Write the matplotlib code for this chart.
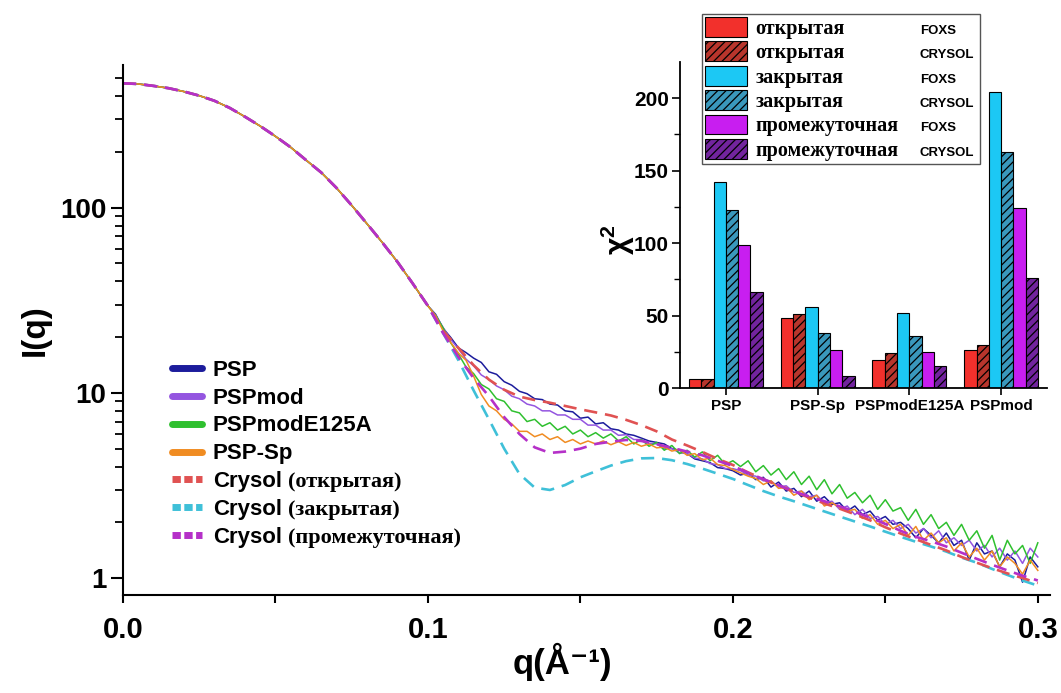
import matplotlib.pyplot as plt
import numpy as np
from matplotlib.lines import Line2D
from matplotlib.patches import Patch
from matplotlib.ticker import FixedLocator, NullFormatter

plt.rcParams['font.family'] = ['Liberation Sans', 'DejaVu Sans']
plt.rcParams['font.weight'] = 'bold'
plt.rcParams['mathtext.fontset'] = 'custom'
plt.rcParams['mathtext.rm'] = 'Liberation Sans:bold'
plt.rcParams['mathtext.it'] = 'Liberation Sans:bold'
plt.rcParams['mathtext.bf'] = 'Liberation Sans:bold'
plt.rcParams['hatch.linewidth'] = 0.9

W, H = 1061, 693

# ---- SAXS curves: common low-q part (all curves overlap here)
q_low = [0.0, 0.005, 0.01, 0.015, 0.02, 0.025, 0.03, 0.035, 0.04, 0.045, 0.05,
         0.055, 0.06, 0.065, 0.07, 0.075, 0.08, 0.085, 0.09, 0.095, 0.1]
I_low = [470, 466, 455, 442, 424, 403, 378, 346, 310, 276, 243,
         212, 181, 155, 128, 103, 82, 65, 51, 39, 29.5]

# experimental data above q = 0.1 (step 0.0025 up to 0.3)
q_high = np.linspace(0.1025, 0.3, 80)
psp = [26.6, 22.3, 19.9, 17.5, 16.5, 15.4, 14.6, 13.0, 12.6, 11.5,
       11.0, 10.2, 9.9, 9.3, 9.2, 8.7, 8.6, 8.0, 7.9, 7.3,
       7.4, 6.8, 6.9, 6.4, 6.3, 6.0, 5.9, 5.7, 5.5, 5.4,
       5.3, 5.0, 4.9, 4.7, 4.4, 4.3, 4.2, 3.95, 3.9, 3.8,
       3.6, 3.7, 3.4, 3.5, 3.1, 3.3, 2.95, 3.05, 2.75, 2.95,
       2.6, 2.75, 2.5, 2.55, 2.3, 2.45, 2.2, 2.3, 2.05, 2.15,
       1.95, 2.0, 1.85, 1.65, 1.85, 1.7, 1.55, 1.75, 1.5, 1.6,
       1.25, 1.55, 1.35, 1.4, 1.15, 1.35, 1.25, 0.95, 1.3, 1.15]
pspmod = [26.3, 22.5, 19.4, 17.3, 15.2, 14.0, 12.5, 11.8, 10.9, 10.4,
          9.6, 9.3, 8.7, 8.5, 8.0, 8.0, 7.6, 7.6, 7.2, 7.2,
          6.7, 6.7, 6.3, 6.3, 5.9, 5.95, 5.6, 5.6, 5.35, 5.3,
          5.0, 5.0, 4.75, 4.7, 4.45, 4.4, 4.15, 4.1, 3.9, 3.9,
          3.8, 3.6, 3.55, 3.35, 3.35, 3.1, 3.15, 2.9, 2.95, 2.75,
          2.8, 2.55, 2.6, 2.35, 2.45, 2.2, 2.35, 2.1, 2.15, 1.95,
          2.05, 1.85, 1.95, 1.75, 1.85, 1.65, 1.8, 1.55, 1.65, 1.5,
          1.6, 1.4, 1.5, 1.3, 1.45, 1.25, 1.4, 1.2, 1.45, 1.3]
pspmod_e125a = [26.2, 22.4, 18.6, 16.2, 13.8, 12.7, 11.1, 10.5, 9.3, 9.0,
                8.0, 7.8, 7.0, 7.2, 6.6, 6.9, 6.3, 6.6, 6.0, 6.3,
                5.8, 6.1, 5.7, 6.0, 5.5, 5.8, 5.3, 5.6, 5.15, 5.4,
                4.9, 5.2, 4.7, 4.9, 4.5, 4.8, 4.3, 4.6, 4.1, 4.3,
                4.0, 4.3, 3.75, 4.05, 3.6, 3.9, 3.4, 3.75, 3.2, 3.55,
                3.0, 3.4, 2.85, 3.2, 2.7, 2.9, 2.55, 2.8, 2.35, 2.65,
                2.3, 2.4, 2.05, 2.35, 1.95, 2.2, 1.85, 2.0, 1.7, 1.95,
                1.6, 1.8, 1.45, 1.7, 1.25, 1.6, 1.35, 1.5, 1.2, 1.55]
psp_sp = [26.1, 21.6, 18.7, 16.4, 15.0, 12.3, 9.8, 8.5, 8.0, 7.2,
          6.8, 6.2, 6.2, 5.8, 6.0, 5.6, 5.8, 5.4, 5.6, 5.3,
          5.5, 5.3, 5.5, 5.25, 5.45, 5.2, 5.4, 5.15, 5.3, 5.05,
          5.1, 4.85, 4.95, 4.6, 4.7, 4.35, 4.45, 4.1, 4.05, 3.85,
          3.7, 3.55, 3.45, 3.2, 3.35, 3.05, 3.1, 2.8, 2.95, 2.65,
          2.8, 2.45, 2.55, 2.4, 2.3, 2.35, 2.1, 2.2, 1.95, 2.05,
          1.85, 1.95, 1.7, 1.9, 1.6, 1.75, 1.55, 1.65, 1.4, 1.55,
          1.3, 1.45, 1.25, 1.4, 1.15, 1.3, 1.2, 1.05, 1.25, 1.1]

# Crysol model curves above q = 0.1 (step 0.005)
q_model = np.linspace(0.105, 0.3, 40)
crysol_open = [21.6, 17.5, 14.1, 11.8, 10.4, 9.55, 9.15, 8.85, 8.5, 8.15,
               7.85, 7.55, 7.15, 6.7, 6.2, 5.6, 5.2, 4.8, 4.4, 4.08,
               3.72, 3.42, 3.15, 2.93, 2.72, 2.53, 2.37, 2.21, 2.05, 1.88,
               1.74, 1.62, 1.51, 1.41, 1.30, 1.21, 1.13, 1.06, 1.00, 0.94]
crysol_closed = [21.0, 15.0, 10.3, 7.2, 5.0, 3.65, 3.08, 2.99, 3.18, 3.5,
                 3.77, 4.05, 4.28, 4.43, 4.45, 4.33, 4.13, 3.9, 3.66, 3.43,
                 3.18, 2.95, 2.76, 2.6, 2.44, 2.29, 2.15, 2.02, 1.9, 1.78,
                 1.67, 1.57, 1.48, 1.39, 1.29, 1.21, 1.12, 1.04, 0.97, 0.91]
crysol_inter = [21.0, 15.6, 12.0, 9.6, 7.4, 6.0, 5.08, 4.74, 4.82, 5.0,
                5.3, 5.45, 5.57, 5.5, 5.28, 5.05, 4.82, 4.6, 4.3, 4.03,
                3.7, 3.42, 3.18, 2.93, 2.76, 2.6, 2.44, 2.28, 2.12, 1.96,
                1.8, 1.67, 1.58, 1.48, 1.37, 1.27, 1.18, 1.10, 1.03, 0.97]

exp_names = ['PSP', 'PSPmod', 'PSPmodE125A', 'PSP-Sp']
exp_data = [psp, pspmod, pspmod_e125a, psp_sp]
exp_colors = ['#1c1c9c', '#9455e0', '#2fc02f', '#f08c22']
model_states = ['(открытая)', '(закрытая)', '(промежуточная)']
model_data = [crysol_open, crysol_closed, crysol_inter]
model_colors = ['#e05252', '#3fc0d8', '#b530c8']

# ---- chi^2 bar chart
groups = ['PSP', 'PSP-Sp', 'PSPmodE125A', 'PSPmod']
open_foxs = [6, 48, 19, 26]
open_crysol = [6, 51, 24, 30]
closed_foxs = [142, 56, 52, 204]
closed_crysol = [123, 38, 36, 163]
inter_foxs = [99, 26, 25, 124]
inter_crysol = [66, 8, 15, 76]
bar_states = ['открытая', 'открытая', 'закрытая', 'закрытая', 'промежуточная', 'промежуточная']
bar_methods = ['FOXS', 'CRYSOL', 'FOXS', 'CRYSOL', 'FOXS', 'CRYSOL']
bar_colors = ['#f2302c', '#b8352c', '#1cc8f4', '#3a98bc', '#c81ef0', '#72249e']
bar_hatch = [None, '////', None, '////', None, '////']

fig = plt.figure(figsize=(W / 100, H / 100), dpi=100)
ax = fig.add_axes([123 / W, 98 / H, 927 / W, 530 / H])

for vals, c in zip(exp_data, exp_colors):
    ax.plot(np.concatenate([q_low, q_high]), np.concatenate([I_low, vals]),
            color=c, lw=1.1)
for vals, c in zip([crysol_closed, crysol_open, crysol_inter],
                   [model_colors[1], model_colors[0], model_colors[2]]):
    ax.plot(np.concatenate([q_low, q_model]), np.concatenate([I_low, vals]),
            color=c, lw=1.9, linestyle=(0, (5, 3)))

ax.set_yscale('log')
ax.set_xlim(0, 0.304)
ax.set_ylim(0.81, 590)
ax.set_xticks([0, 0.1, 0.2, 0.3])
ax.set_xticklabels(['0.0', '0.1', '0.2', '0.3'])
ax.xaxis.set_minor_locator(FixedLocator([0.05, 0.15, 0.25]))
ax.set_yticks([1, 10, 100])
ax.set_yticklabels(['1', '10', '100'])
ax.yaxis.set_minor_locator(FixedLocator([k * d for d in [1, 10, 100] for k in range(2, 10)]))
ax.yaxis.set_minor_formatter(NullFormatter())
for s in ['top', 'right']:
    ax.spines[s].set_visible(False)
for s in ['left', 'bottom']:
    ax.spines[s].set_linewidth(1.5)
ax.tick_params(axis='y', which='major', length=9, width=1.5, labelsize=20, pad=3)
ax.tick_params(axis='y', which='minor', length=6, width=1.3)
ax.tick_params(axis='x', which='both', length=6, width=1.5, labelsize=21, pad=9)

fig.text(35 / W, 1 - 330 / H, 'I(q)', rotation=90, fontsize=24, ha='center', va='center')
fig.text(562 / W, 1 - 662 / H, 'q(Å⁻¹)', fontsize=25, ha='center', va='center')

handles = [Line2D([], [], color=c, lw=5, solid_capstyle='round') for c in exp_colors]
handles += [Line2D([], [], color=c, lw=5, linestyle=(0, (1.2, 0.5))) for c in model_colors]
leg = ax.legend(handles, exp_names + ['Crysol'] * 3, loc='upper left',
                bbox_to_anchor=(165 / W, 1 - 353 / H), bbox_transform=fig.transFigure,
                frameon=False, fontsize=16, handlelength=1.35, handletextpad=0.5,
                labelspacing=0.31, borderpad=0.3, borderaxespad=0)

# ---- inset bar chart
ax2 = fig.add_axes([680 / W, 1 - 388 / H, 367 / W, 326 / H])
ax2.set_facecolor('none')
x = np.arange(len(groups))
bw = 0.134
bar_vals = [open_foxs, open_crysol, closed_foxs, closed_crysol, inter_foxs, inter_crysol]
for k, (vals, c, h) in enumerate(zip(bar_vals, bar_colors, bar_hatch)):
    ax2.bar(x + (k - 2.5) * bw, vals, width=bw, color=c, edgecolor='black',
            linewidth=0.8, hatch=h)
ax2.set_xlim(-0.5, 3.5)
ax2.set_ylim(0, 225)
ax2.set_xticks(x)
ax2.set_xticklabels(groups)
ax2.set_yticks([0, 50, 100, 150, 200])
ax2.yaxis.set_minor_locator(FixedLocator([25, 75, 125, 175]))
for s in ['top', 'right']:
    ax2.spines[s].set_visible(False)
for s in ['left', 'bottom']:
    ax2.spines[s].set_linewidth(1.3)
ax2.tick_params(axis='y', which='major', length=6, width=1.2, labelsize=15, pad=2)
ax2.tick_params(axis='y', which='minor', length=4, width=1.0)
ax2.tick_params(axis='x', length=5, width=1.2, labelsize=11, pad=3)
fig.text(618 / W, 1 - 240 / H, 'χ$^{2}$', rotation=90, fontsize=22, ha='center', va='center')

patches = [Patch(facecolor=c, edgecolor='black', hatch=h, linewidth=0.8)
           for c, h in zip(bar_colors, bar_hatch)]
leg2 = fig.legend(patches, bar_states, loc='upper left',
                  bbox_to_anchor=(702 / W, 1 - 14 / H, 278 / W, 0), mode='expand',
                  prop={'family': 'Liberation Serif', 'weight': 'bold', 'size': 14.5},
                  handlelength=2.1, handleheight=1.12, handletextpad=0.4,
                  labelspacing=0.14, borderpad=0.15, borderaxespad=0,
                  fancybox=False, edgecolor='#555555', framealpha=1)
leg2.get_frame().set_linewidth(1.0)

fig.canvas.draw()
r = fig.canvas.get_renderer()
for t, m in zip(leg2.get_texts(), bar_methods):
    bb = t.get_window_extent(r)
    fig.text(920 / W, ((bb.y0 + bb.y1) / 2 - 2) / H, m, fontsize=9.5, va='center',
             zorder=10)
for t, s in zip(leg.get_texts()[4:], model_states):
    bb = t.get_window_extent(r)
    fig.text((bb.x1 + 6) / W, (bb.y0 + bb.y1) / 2 / H, s, fontsize=16, va='center',
             family='Liberation Serif', weight='bold', zorder=10)

fig.savefig('out.png', dpi=100)
